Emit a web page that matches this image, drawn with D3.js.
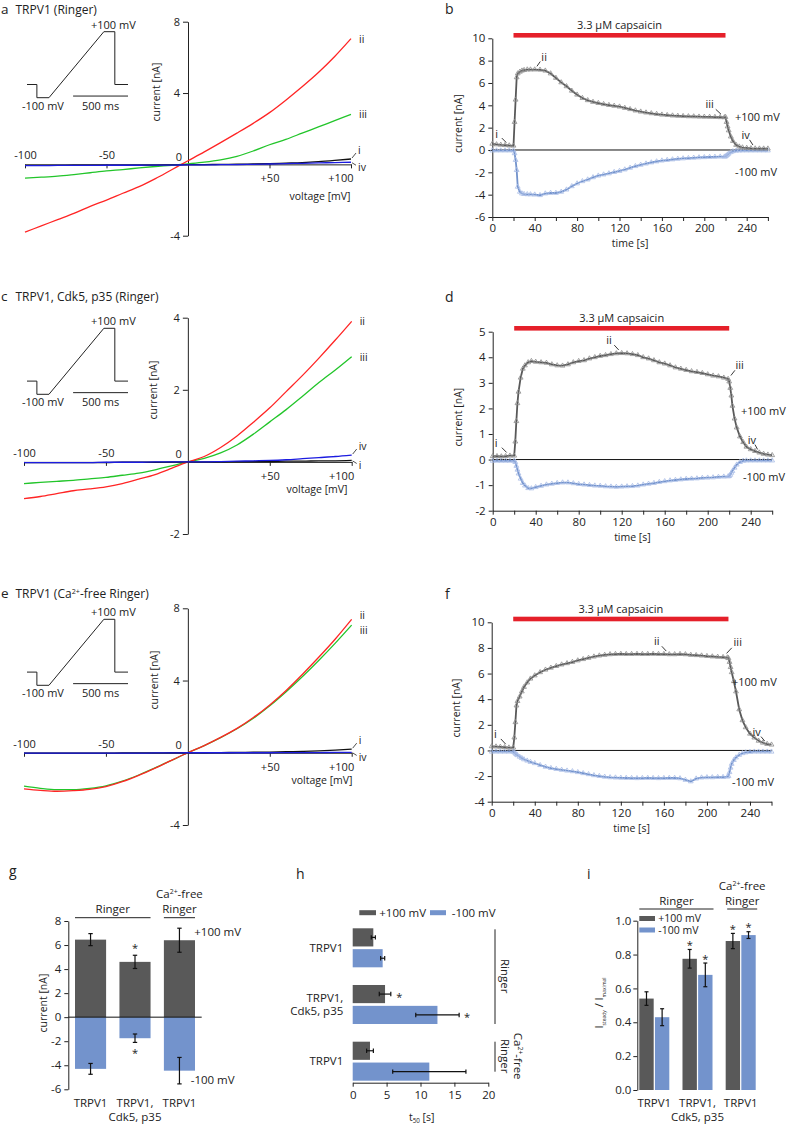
<!DOCTYPE html>
<html><head><meta charset="utf-8">
<script src="https://d3js.org/d3.v7.min.js"></script>
<style>
html,body{margin:0;padding:0;background:#fff;}
svg{display:block;font-family:'Open Sans',sans-serif;}
</style></head>
<body><svg id="fig" width="787" height="1127"></svg>
<script>
// ================= DATA =================
// I-V ramps (voltage in mV, current in nA)
const ivVoltage = [-100,-90,-80,-70,-60,-50,-40,-30,-20,-10,0,10,20,30,40,50,60,70,80,90,100];
const ivA_ii  = [-3.8,-3.45,-3.1,-2.75,-2.35,-2.0,-1.62,-1.25,-0.8,-0.3,0.2,0.7,1.22,1.75,2.3,2.9,3.6,4.35,5.15,6.05,7.05];
const ivA_iii = [-0.77,-0.72,-0.66,-0.57,-0.47,-0.37,-0.29,-0.2,-0.12,-0.05,0.03,0.12,0.25,0.45,0.75,1.1,1.4,1.75,2.1,2.45,2.8];
const ivA_i   = [-0.06,-0.06,-0.06,-0.05,-0.05,-0.05,-0.05,-0.04,-0.04,-0.03,-0.02,-0.01,0,0.01,0.02,0.04,0.07,0.1,0.15,0.22,0.3];
const ivA_iv  = [-0.07,-0.07,-0.06,-0.06,-0.06,-0.05,-0.05,-0.05,-0.04,-0.04,-0.03,-0.03,-0.02,-0.01,0,0.02,0.04,0.06,0.08,0.1,0.12];
const ivC_ii  = [-1.02,-0.96,-0.88,-0.8,-0.75,-0.69,-0.6,-0.48,-0.35,-0.18,0,0.15,0.4,0.72,1.1,1.5,1.95,2.4,2.88,3.38,3.9];
const ivC_iii = [-0.6,-0.57,-0.54,-0.51,-0.47,-0.43,-0.37,-0.31,-0.22,-0.11,0,0.1,0.25,0.47,0.77,1.11,1.45,1.82,2.2,2.55,2.92];
const ivC_i   = [-0.02,-0.02,-0.02,-0.02,-0.02,-0.02,-0.01,-0.01,-0.01,0,0,0,0,0.01,0.01,0.01,0.02,0.02,0.03,0.03,0.04];
const ivC_iv  = [-0.02,-0.02,-0.02,-0.02,-0.02,-0.01,-0.01,-0.01,0,0,0,0,0.01,0.02,0.03,0.04,0.06,0.09,0.12,0.15,0.19];
const ivE_ii  = [-2.0,-2.08,-2.13,-2.1,-2.03,-1.87,-1.6,-1.25,-0.85,-0.42,0,0.4,0.85,1.35,1.95,2.65,3.45,4.35,5.3,6.3,7.39];
const ivE_iii = [-1.85,-1.97,-2.04,-2.04,-1.97,-1.83,-1.57,-1.23,-0.84,-0.42,0,0.4,0.84,1.33,1.91,2.6,3.38,4.22,5.12,6.07,7.07];
const ivE_i   = [-0.02,-0.02,-0.02,-0.02,-0.02,-0.02,-0.01,-0.01,-0.01,0,0,0,0.01,0.02,0.03,0.04,0.06,0.08,0.11,0.15,0.2];
const ivE_iv  = [-0.02,-0.02,-0.02,-0.02,-0.02,-0.02,-0.02,-0.02,-0.01,-0.01,0,0,0,0,0,0,0.01,0.01,0.01,0.02,0.02];

// voltage protocol of the inset (ms, mV)
const protoTime    = [0,90,90,200,700,800,800,920];
const protoVoltage = [-60,-60,-100,-100,100,100,-60,-60];
const scaleBarMs = 500;

// time courses (s, nA)
const timeGrid = [0,4,8,12,16,20, 21,22,23,24,26,28,30,33,36,
  40,45,50,55,60,65,70,75,80,85, 90,95,100,105,110,115,120,125,130,135,
  140,145,150,155,160,165,170,175,180,185, 190,195,200,205,210,215,
  219,220,221,222,223,225,227,230,233,236, 240,244,248,252,256,260];
const capStart = 20, capEnd = 220;
const bPlus = [0.55,0.5,0.46,0.43,0.4,0.38, 2.5,4.5,6.5,6.85,7.0,7.1,7.15,7.2,7.2,
  7.2,7.18,7.1,6.85,6.45,6.05,5.7,5.3,4.95,4.65, 4.45,4.3,4.2,4.1,4.02,3.95,3.88,3.76,3.65,3.53,
  3.43,3.35,3.28,3.22,3.16,3.12,3.08,3.05,3.03,3.01, 3.0,2.98,2.97,2.96,2.95,2.93,
  2.92,2.95,2.5,2.1,1.75,1.2,0.8,0.45,0.3,0.22, 0.18,0.15,0.13,0.12,0.12,0.12];
const bMinus = [-0.05,-0.05,-0.05,-0.05,-0.05,-0.05, -0.3,-0.9,-1.8,-3.3,-3.75,-3.9,-3.95,-3.97,-3.98,
  -4.0,-4.05,-3.9,-3.85,-3.85,-3.75,-3.55,-3.25,-3.0,-2.8, -2.65,-2.45,-2.3,-2.2,-2.1,-1.98,-1.88,-1.75,-1.6,-1.45,
  -1.33,-1.22,-1.12,-1.03,-0.95,-0.9,-0.85,-0.8,-0.76,-0.73, -0.7,-0.67,-0.65,-0.63,-0.62,-0.6,
  -0.6,-0.58,-0.5,-0.42,-0.33,-0.2,-0.12,-0.07,-0.05,-0.05, -0.05,-0.05,-0.05,-0.05,-0.05,-0.05];
const dPlus = [0.13,0.13,0.12,0.13,0.15,0.15, 0.7,1.5,2.2,2.65,3.2,3.55,3.68,3.8,3.85,
  3.82,3.8,3.78,3.72,3.68,3.67,3.72,3.8,3.85,3.88, 3.95,4.0,4.05,4.08,4.12,4.15,4.16,4.15,4.12,4.08,
  4.0,3.95,3.88,3.8,3.75,3.68,3.6,3.55,3.5,3.45, 3.42,3.38,3.33,3.28,3.25,3.2,
  3.15,3.05,2.8,2.5,2.1,1.6,1.25,0.9,0.68,0.5, 0.4,0.33,0.27,0.22,0.19,0.17];
const dMinus = [-0.05,-0.05,-0.05,-0.05,-0.05,-0.05, -0.1,-0.25,-0.4,-0.55,-0.75,-0.92,-1.02,-1.12,-1.13,
  -1.08,-1.03,-0.98,-0.95,-0.92,-0.9,-0.9,-0.93,-0.96,-0.98, -1.0,-1.02,-1.03,-1.05,-1.06,-1.07,-1.06,-1.05,-1.04,-1.02,
  -0.98,-0.95,-0.92,-0.88,-0.85,-0.82,-0.8,-0.78,-0.76,-0.75, -0.74,-0.72,-0.71,-0.7,-0.68,-0.67,
  -0.66,-0.65,-0.6,-0.52,-0.45,-0.32,-0.2,-0.1,-0.05,-0.04, -0.04,-0.04,-0.04,-0.04,-0.04,-0.04];
const fPlus = [0.32,0.3,0.28,0.25,0.22,0.22, 1.0,2.2,3.5,3.85,4.2,4.6,4.95,5.3,5.6,
  5.85,6.1,6.3,6.45,6.58,6.7,6.8,6.9,7.02,7.12, 7.22,7.32,7.4,7.45,7.5,7.52,7.53,7.52,7.52,7.53,
  7.52,7.52,7.53,7.52,7.52,7.5,7.5,7.52,7.5,7.45, 7.43,7.4,7.36,7.33,7.3,7.28,
  7.25,7.2,6.9,6.5,6.1,5.4,4.6,3.2,2.35,1.8, 1.3,1.0,0.75,0.6,0.5,0.45];
const fMinus = [-0.1,-0.1,-0.1,-0.1,-0.1,-0.1, -0.15,-0.25,-0.32,-0.38,-0.5,-0.6,-0.7,-0.8,-0.9,
  -1.0,-1.15,-1.28,-1.38,-1.45,-1.52,-1.58,-1.63,-1.7,-1.78, -1.86,-1.94,-2.0,-2.06,-2.1,-2.12,-2.14,-2.15,-2.16,-2.17,
  -2.16,-2.15,-2.16,-2.17,-2.16,-2.15,-2.15,-2.18,-2.3,-2.42, -2.2,-2.12,-2.1,-2.1,-2.08,-2.08,
  -2.05,-2.0,-1.7,-1.35,-1.05,-0.75,-0.55,-0.35,-0.22,-0.16, -0.12,-0.1,-0.1,-0.1,-0.1,-0.1];
const markLabels = ["i","ii","iii","iv"];
const bMarkTimes = [16,40,219,248];
const dMarkTimes = [16,120,219,248];
const fMarkTimes = [16,165,215,256];

// summary bars
const barCategories = ["TRPV1","TRPV1,|Cdk5, p35","TRPV1"];
const gPlus = [6.45,4.6,6.4],   gPlusErr = [0.5,0.55,1.0];
const gMinus = [-4.3,-1.75,-4.45], gMinusErr = [0.45,0.35,1.1];
const gStars = [false,true,false];
const hPlus = [3.04,4.77,2.55], hPlusErr = [0.3,0.85,0.5];
const hMinus = [4.42,12.5,11.3], hMinusErr = [0.3,3.2,5.4];
const hStars = [false,true,false];
const iPlus = [0.54,0.775,0.88], iPlusErr = [0.04,0.055,0.045];
const iMinus = [0.43,0.68,0.915], iMinusErr = [0.05,0.07,0.02];
const iStars = [false,true,true];
const gTicks = [-6,-4,-2,0,2,4,6,8];
const hTicks = [0,5,10,15,20];
const iTicks = [0,0.2,0.4,0.6,0.8,1.0];

// ================= DRAWING =================
const FONT = "'Open Sans', sans-serif";
const INK = "#222";
const GRAY = "#595959", BLUE = "#7393cc";
const svg = d3.select("#fig");

function richText(sel, parts){
  let shift = 0;
  parts.forEach(p=>{
    const target = p.sup ? -4 : (p.sub ? 2.5 : 0);
    const ts = sel.append("tspan").attr("dy", target - shift).text(p.t);
    if (p.sup || p.sub) ts.attr("font-size", p.fs || "0.6em");
    shift = target;
  });
}
function styleAxis(a, fs){
  a.attr("font-family", FONT).attr("font-size", fs || 11);
  a.select(".domain").attr("stroke", INK);
  a.selectAll(".tick line").attr("stroke", INK);
  a.selectAll(".tick text").attr("fill", INK);
}
function txt(g, x, y, s, fs, anchor){
  return g.append("text").attr("x", x).attr("y", y).attr("font-size", fs || 11)
    .attr("text-anchor", anchor || "start").attr("fill", INK).text(s);
}

// ---------- I-V panels ----------
function drawIV(cfg){
  const g = svg.append("g");
  const x = d3.scaleLinear().domain([-100,100]).range(cfg.xr);
  const y = d3.scaleLinear().domain(cfg.yd).range(cfg.yr);
  txt(g, 1, cfg.titleY, cfg.letter, 13.5);
  richText(g.append("text").attr("x",15.5).attr("y",cfg.titleY).attr("font-size",12).attr("fill",INK), cfg.title);

  // inset protocol
  const ix = d3.scaleLinear().domain([0,920]).range([27,128]);
  const iy = d3.scaleLinear().domain([-100,100]).range([cfg.insetTop+66, cfg.insetTop]);
  g.append("path").datum(d3.zip(protoTime, protoVoltage))
    .attr("d", d3.line().x(d=>ix(d[0])).y(d=>iy(d[1])))
    .attr("fill","none").attr("stroke",INK).attr("stroke-width",1);
  const tEnd = protoTime[protoTime.length-1];
  g.append("line").attr("x1", ix(tEnd-scaleBarMs)).attr("x2", ix(tEnd))
    .attr("y1", iy(-95)).attr("y2", iy(-95)).attr("stroke",INK);
  txt(g, ix(750)+4, iy(100)-3, "+100 mV", 11, "middle");
  txt(g, ix(145), iy(-100)+12, "-100 mV", 11, "middle");
  txt(g, ix(tEnd-scaleBarMs/2), iy(-100)+12, "500 ms", 11, "middle");

  // axes
  const ya = g.append("g").attr("transform",`translate(${x(0)},0)`)
    .call(d3.axisLeft(y).tickValues(cfg.yTicks).tickSize(5).tickSizeOuter(0).tickPadding(3).tickFormat(d=>String(d)));
  styleAxis(ya);
  ya.selectAll(".tick").filter(d=>d===0).select("line").remove();
  ya.selectAll(".tick text").filter(d=>d===0).attr("dy","0").attr("y",-4).attr("x",-6);
  const xa = g.append("g").attr("transform",`translate(0,${y(0)})`)
    .call(d3.axisBottom(x).tickValues([-100,-50,50,100]).tickSize(4).tickSizeOuter(0).tickPadding(6)
      .tickFormat(d=> d>0 ? "+"+d : String(d)));
  styleAxis(xa);
  xa.selectAll(".tick text").filter(d=>d<0).attr("y",-5).attr("dy","0");
  xa.selectAll(".tick text").filter(d=>d===100).attr("text-anchor","end").attr("x",2);
  txt(g, cfg.ylab[0], cfg.ylab[1], "current [nA]", 10.5, "middle")
    .attr("transform", `rotate(-90,${cfg.ylab[0]},${cfg.ylab[1]})`);
  txt(g, cfg.xlab[0], cfg.xlab[1], "voltage [mV]", 10.5, "middle");

  // curves
  const line = d3.line().x((d,i)=>x(ivVoltage[i])).y(d=>y(d)).curve(d3.curveMonotoneX);
  const series = [[cfg.iii,"#22c52a"],[cfg.ii,"#ff2424"],[cfg.i,"#111"],[cfg.iv,"#1c1ce0"]];
  series.forEach(([d,c])=>g.append("path").datum(d).attr("d",line).attr("fill","none")
    .attr("stroke",c).attr("stroke-width",1.3));

  const xe = x(100);
  const end = a => y(a[a.length-1]);
  txt(g, xe+8, end(cfg.ii)+4+cfg.iiShift, "ii", 10.5);
  txt(g, xe+8, end(cfg.iii)+4+cfg.iiiShift, "iii", 10.5);
  const up = cfg.upper === "i" ? cfg.i : cfg.iv, lo = cfg.upper === "i" ? cfg.iv : cfg.i;
  const upName = cfg.upper, loName = cfg.upper === "i" ? "iv" : "i";
  const yu = end(up), yl = end(lo);
  g.append("line").attr("x1",xe+1).attr("y1",yu-1).attr("x2",xe+5).attr("y2",yu-6).attr("stroke",INK).attr("stroke-width",0.8);
  txt(g, xe+7, yu-5, upName, 10.5);
  g.append("line").attr("x1",xe+1).attr("y1",yl+0.5).attr("x2",xe+5).attr("y2",yl+3).attr("stroke",INK).attr("stroke-width",0.8);
  txt(g, xe+7, yl+9, loName, 10.5);
}

drawIV({letter:"a", title:[{t:"TRPV1 (Ringer)"}], titleY:13.5, xr:[25,351], yd:[-4,8], yr:[235.7,21.7],
  yTicks:[-4,0,4,8], insetTop:31.7, ylab:[160,92], xlab:[320,199.5],
  ii:ivA_ii, iii:ivA_iii, i:ivA_i, iv:ivA_iv, upper:"i", iiShift:0, iiiShift:0});
drawIV({letter:"c", title:[{t:"TRPV1, Cdk5, p35 (Ringer)"}], titleY:300.5, xr:[24,351.7], yd:[-2,4], yr:[534,317.7],
  yTicks:[-2,0,2,4], insetTop:328.3, ylab:[157,390], xlab:[317,493],
  ii:ivC_ii, iii:ivC_iii, i:ivC_i, iv:ivC_iv, upper:"iv", iiShift:0, iiiShift:0});
drawIV({letter:"e", title:[{t:"TRPV1 (Ca"},{t:"2+",sup:true},{t:"-free Ringer)"}], titleY:598, xr:[24,351.7], yd:[-4,8], yr:[825,608.3],
  yTicks:[-4,0,4,8], insetTop:619.3, ylab:[158,680], xlab:[322,784],
  ii:ivE_ii, iii:ivE_iii, i:ivE_i, iv:ivE_iv, upper:"i", iiShift:-4.5, iiiShift:4.5});

// ---------- time-course panels ----------
function drawTime(cfg){
  const g = svg.append("g");
  const x = d3.scaleLinear().domain([0,260]).range(cfg.xr);
  const y = d3.scaleLinear().domain(cfg.yd).range(cfg.yr);
  txt(g, 445, cfg.letterY, cfg.letter, 14);
  g.append("rect").attr("x",x(capStart)).attr("width",x(capEnd)-x(capStart))
    .attr("y",cfg.barY-2.3).attr("height",4.6).attr("fill","#e5202a");
  txt(g, (x(capStart)+x(capEnd))/2, cfg.barY-6, "3.3 \u03bcM capsaicin", 11, "middle");

  const ya = g.append("g").attr("transform",`translate(${cfg.xr[0]},0)`)
    .call(d3.axisLeft(y).tickValues(cfg.yTicks).tickSize(4).tickSizeOuter(0).tickPadding(3).tickFormat(d=>String(d)));
  styleAxis(ya, 11.5);
  const xa = g.append("g").attr("transform",`translate(0,${cfg.yr[0]})`)
    .call(d3.axisBottom(x).tickValues(d3.range(0,261,20)).tickSize(4).tickSizeOuter(0).tickPadding(3)
      .tickFormat(d=> d%40===0 ? String(d) : ""));
  styleAxis(xa, 11.5);
  g.append("line").attr("x1",x(0)).attr("x2",x(260)).attr("y1",y(0)).attr("y2",y(0)).attr("stroke","#111");
  txt(g, cfg.ylabX, (cfg.yr[0]+cfg.yr[1])/2 - 4, "current [nA]", 10.5, "middle")
    .attr("transform", `rotate(-90,${cfg.ylabX},${(cfg.yr[0]+cfg.yr[1])/2 - 4})`);
  txt(g, (cfg.xr[0]+cfg.xr[1])/2, cfg.yr[0]+30, "time [s]", 10.5, "middle");

  const line = d3.line().x((d,i)=>x(timeGrid[i])).y(d=>y(d));
  const tri = d3.symbol().type(d3.symbolTriangle).size(10);
  [[cfg.minus, BLUE, "#a7bbe6"],[cfg.plus, GRAY, "#8c8c8c"]].forEach(([d,c,mc])=>{
    g.append("path").datum(d).attr("d",line).attr("fill","none").attr("stroke",c).attr("stroke-width",1.8);
    g.selectAll(null).data(d).join("path").attr("d",tri)
      .attr("transform",(v,i)=>`translate(${x(timeGrid[i])},${y(v)})`)
      .attr("fill","none").attr("stroke",mc).attr("stroke-width",0.8);
  });
  txt(g, cfg.posLab[0], cfg.posLab[1], "+100 mV", 11);
  txt(g, cfg.negLab[0], cfg.negLab[1], "-100 mV", 11);

  markLabels.forEach((lab,k)=>{
    const t = cfg.marks[k];
    const idx = timeGrid.indexOf(t);
    const px = x(t), py = y(cfg.plus[idx]);
    const [dx,dy] = cfg.offsets[k];
    g.append("line").attr("x1",px+dx*0.25).attr("y1",py+dy*0.25).attr("x2",px+dx*0.62).attr("y2",py+dy*0.62)
      .attr("stroke",INK).attr("stroke-width",0.9);
    txt(g, px+dx*1.05, py+dy+4, lab, 11, "middle");
  });
}

drawTime({letter:"b", letterY:14, xr:[492.3,767.9], yd:[-6,10], yr:[217,38.3], yTicks:d3.range(-6,11,2),
  barY:35.3, ylabX:462, plus:bPlus, minus:bMinus, marks:bMarkTimes,
  offsets:[[-12,-12],[9,-13],[-14,-13],[-9,-14]], posLab:[735,121], negLab:[735,176]});
drawTime({letter:"d", letterY:301.7, xr:[492.7,772.2], yd:[-2,5], yr:[510.7,331.7], yTicks:d3.range(-2,6,1),
  barY:328.3, ylabX:462, plus:dPlus, minus:dMinus, marks:dMarkTimes,
  offsets:[[-13,-13],[-12,-13],[11,-14],[-7,-13]], posLab:[741,414.5], negLab:[743,481]});
drawTime({letter:"f", letterY:599.3, xr:[491.7,771.5], yd:[-4,10], yr:[801.7,622.3], yTicks:d3.range(-4,11,2),
  barY:619, ylabX:460, plus:fPlus, minus:fMinus, marks:fMarkTimes,
  offsets:[[-13,-14],[-12,-13],[14,-15],[-10,-12]], posLab:[732,685.5], negLab:[732,785.5]});

// ---------- helpers for bars ----------
function errBar(g, cx, y1, y2, cap, horiz){
  if (!horiz){
    g.append("line").attr("x1",cx).attr("x2",cx).attr("y1",y1).attr("y2",y2).attr("stroke","#111").attr("stroke-width",1.2);
    [y1,y2].forEach(yy=>g.append("line").attr("x1",cx-cap).attr("x2",cx+cap).attr("y1",yy).attr("y2",yy).attr("stroke","#111").attr("stroke-width",1.2));
  } else {
    g.append("line").attr("y1",cx).attr("y2",cx).attr("x1",y1).attr("x2",y2).attr("stroke","#111").attr("stroke-width",1.2);
    [y1,y2].forEach(xx=>g.append("line").attr("y1",cx-cap).attr("y2",cx+cap).attr("x1",xx).attr("x2",xx).attr("stroke","#111").attr("stroke-width",1.2));
  }
}
function star(g, x, yc){ txt(g, x, yc+5.5, "*", 11, "middle"); }
function catLabels(g, xs, y0){
  barCategories.forEach((c,i)=>{
    c.split("|").forEach((s,j)=>txt(g, xs[i], y0+j*13.5, s, 11.5, "middle"));
  });
}
function groupHeader(g, x1, x2, x3, x4, yLine){
  g.append("line").attr("x1",x1).attr("x2",x2).attr("y1",yLine).attr("y2",yLine).attr("stroke",INK);
  g.append("line").attr("x1",x3).attr("x2",x4).attr("y1",yLine).attr("y2",yLine).attr("stroke",INK);
  txt(g, (x1+x2)/2, yLine-4.5, "Ringer", 11.5, "middle");
  txt(g, (x3+x4)/2, yLine-4.5, "Ringer", 11.5, "middle");
  richText(txt(g, (x3+x4)/2, yLine-19.5, "", 11.5, "middle"), [{t:"Ca"},{t:"2+",sup:true},{t:"-free"}]);
}

// ---------- panel g ----------
(function(){
  const g = svg.append("g");
  txt(g, 9, 876, "g", 14);
  const x = d3.scaleBand().domain(d3.range(3)).range([75,195]).paddingInner(0.3);
  const y = d3.scaleLinear().domain([-6,8]).range([1089.3,921]);
  const bw = x.bandwidth();
  gPlus.forEach((v,i)=>g.append("rect").attr("x",x(i)).attr("width",bw).attr("y",y(v)).attr("height",y(0)-y(v)).attr("fill",GRAY));
  gMinus.forEach((v,i)=>g.append("rect").attr("x",x(i)).attr("width",bw).attr("y",y(0)).attr("height",y(v)-y(0)).attr("fill",BLUE));
  gPlus.forEach((v,i)=>errBar(g, x(i)+bw/2, y(v-gPlusErr[i]), y(v+gPlusErr[i]), 2.2));
  gMinus.forEach((v,i)=>errBar(g, x(i)+bw/2, y(v-gMinusErr[i]), y(v+gMinusErr[i]), 2.2));
  gStars.forEach((s,i)=>{ if(s){ star(g, x(i)+bw/2, y(gPlus[i]+gPlusErr[i])-9); star(g, x(i)+bw/2, y(gMinus[i]-gMinusErr[i])+9); }});
  const ya = g.append("g").attr("transform","translate(68.3,0)")
    .call(d3.axisLeft(y).tickValues(gTicks).tickSize(4).tickSizeOuter(0).tickPadding(3).tickFormat(d=>String(d)));
  styleAxis(ya, 11.5);
  g.append("line").attr("x1",68.3).attr("x2",201.7).attr("y1",y(0)).attr("y2",y(0)).attr("stroke","#111");
  txt(g, 46.7, 1003, "current [nA]", 10.5, "middle").attr("transform","rotate(-90,46.7,1003)");
  catLabels(g, d3.range(3).map(i=>x(i)+bw/2), 1107);
  groupHeader(g, x(0), x(1)+bw, x(2), x(2)+bw, 917.7);
  txt(g, 194.3, 935.5, "+100 mV", 11.5);
  txt(g, 190.7, 1084, "-100 mV", 11.5);
})();

// ---------- panel h ----------
(function(){
  const g = svg.append("g");
  txt(g, 296, 879, "h", 14);
  const x = d3.scaleLinear().domain([0,20]).range([352.7,488.3]);
  const gy = d3.scaleBand().domain(d3.range(3)).range([928.3,1080.7]).paddingInner(0.312);
  const sy = d3.scaleBand().domain(["p","n"]).range([0,gy.bandwidth()]).paddingInner(0.13);
  const bh = sy.bandwidth();
  hPlus.forEach((v,i)=>g.append("rect").attr("x",x(0)).attr("width",x(v)-x(0)).attr("y",gy(i)+sy("p")).attr("height",bh).attr("fill",GRAY));
  hMinus.forEach((v,i)=>g.append("rect").attr("x",x(0)).attr("width",x(v)-x(0)).attr("y",gy(i)+sy("n")).attr("height",bh).attr("fill",BLUE));
  hPlus.forEach((v,i)=>errBar(g, gy(i)+sy("p")+bh/2, x(v-hPlusErr[i]), x(v+hPlusErr[i]), 2.2, true));
  hMinus.forEach((v,i)=>errBar(g, gy(i)+sy("n")+bh/2, x(v-hMinusErr[i]), x(v+hMinusErr[i]), 2.2, true));
  hStars.forEach((s,i)=>{ if(s){
    star(g, x(hPlus[i]+hPlusErr[i])+8.5, gy(i)+sy("p")+bh/2+1);
    star(g, x(hMinus[i]+hMinusErr[i])+8, gy(i)+sy("n")+bh/2+1);
  }});
  const xa = g.append("g").attr("transform","translate(0,1082.7)")
    .call(d3.axisBottom(x).tickValues(hTicks).tickSize(4).tickSizeOuter(0).tickPadding(4));
  styleAxis(xa, 11.5);
  const xl = txt(g, 421.7, 1120.5, "", 10.5, "middle");
  richText(xl, [{t:"t"},{t:"50",sub:true},{t:" [s]"}]);
  barCategories.forEach((c,i)=>{
    const parts = c.split("|"); const cy = gy(i)+gy.bandwidth()/2;
    parts.forEach((s,j)=>txt(g, 343.3, cy + 4 + (j-(parts.length-1)/2)*13.5, s, 11.5, "end"));
  });
  // legend
  g.append("rect").attr("x",359.3).attr("y",910.2).attr("width",16.7).attr("height",5).attr("fill",GRAY);
  txt(g, 379.3, 916.7, "+100 mV", 11.5);
  g.append("rect").attr("x",430).attr("y",910.2).attr("width",16).attr("height",5).attr("fill",BLUE);
  txt(g, 451.7, 916.7, "-100 mV", 11.5);
  // right group brackets
  g.append("line").attr("x1",495).attr("x2",495).attr("y1",gy(0)+1).attr("y2",gy(1)+gy.bandwidth()).attr("stroke",INK);
  g.append("line").attr("x1",495).attr("x2",495).attr("y1",gy(2)).attr("y2",gy(2)+gy.bandwidth()-9).attr("stroke",INK);
  const r1 = (gy(0)+gy(1)+gy.bandwidth())/2;
  txt(g, 0, 0, "Ringer", 11.5, "middle").attr("transform",`translate(500.5,${r1}) rotate(90)`);
  const r2 = gy(2)+gy.bandwidth()/2 - 5;
  txt(g, 0, 0, "Ringer", 11.5, "middle").attr("transform",`translate(500.5,${r2}) rotate(90)`);
  richText(txt(g, 0, 0, "", 11.5, "middle").attr("transform",`translate(513.5,${r2}) rotate(90)`), [{t:"Ca"},{t:"2+",sup:true},{t:"-free"}]);
})();

// ---------- panel i ----------
(function(){
  const g = svg.append("g");
  txt(g, 587, 879, "i", 14);
  const x = d3.scaleBand().domain(d3.range(3)).range([639.3,755.7]).paddingInner(0.305);
  const sx = d3.scaleBand().domain(["p","n"]).range([0,x.bandwidth()]).paddingInner(0.08);
  const y = d3.scaleLinear().domain([0,1]).range([1090,920.7]);
  const bw = sx.bandwidth();
  iPlus.forEach((v,i)=>g.append("rect").attr("x",x(i)+sx("p")).attr("width",bw).attr("y",y(v)).attr("height",y(0)-y(v)).attr("fill",GRAY));
  iMinus.forEach((v,i)=>g.append("rect").attr("x",x(i)+sx("n")).attr("width",bw).attr("y",y(v)).attr("height",y(0)-y(v)).attr("fill",BLUE));
  iPlus.forEach((v,i)=>errBar(g, x(i)+sx("p")+bw/2, y(v-iPlusErr[i]), y(v+iPlusErr[i]), 2));
  iMinus.forEach((v,i)=>errBar(g, x(i)+sx("n")+bw/2, y(v-iMinusErr[i]), y(v+iMinusErr[i]), 2));
  iStars.forEach((s,i)=>{ if(s){
    star(g, x(i)+sx("p")+bw/2, y(iPlus[i]+iPlusErr[i])-6);
    star(g, x(i)+sx("n")+bw/2, y(iMinus[i]+iMinusErr[i])-6);
  }});
  const ya = g.append("g").attr("transform","translate(637.3,0)")
    .call(d3.axisLeft(y).tickValues(iTicks).tickSize(4).tickSizeOuter(0).tickPadding(2).tickFormat(d3.format(".1f")));
  styleAxis(ya, 11.5);
  const yl = txt(g, 0, 0, "", 11, "middle").attr("transform","translate(603,1003) rotate(-90)");
  richText(yl, [{t:"I"},{t:"steady",sub:true,fs:"5px"},{t:" / I"},{t:"maximal",sub:true,fs:"5px"}]);
  catLabels(g, d3.range(3).map(i=>x(i)+x.bandwidth()/2), 1107);
  groupHeader(g, x(0), x(1)+x.bandwidth()+1, x(2)+1.5, x(2)+x.bandwidth()+1.5, 909);
  g.append("rect").attr("x",639.3).attr("y",916).attr("width",15.7).attr("height",5).attr("fill",GRAY);
  txt(g, 658.3, 922.3, "+100 mV", 10.5);
  g.append("rect").attr("x",639.3).attr("y",927.5).attr("width",15.7).attr("height",5).attr("fill",BLUE);
  txt(g, 658.3, 933.8, "-100 mV", 10.5);
})();
</script></body></html>
